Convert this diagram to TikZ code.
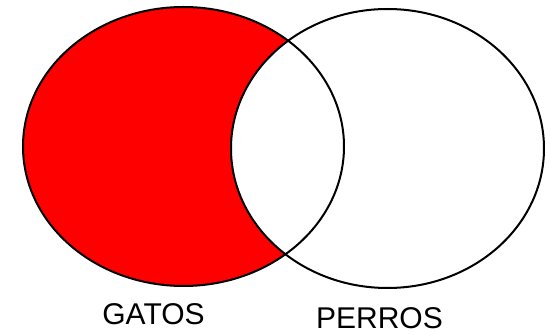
\documentclass[tikz,border=0pt]{standalone}
\usepackage{fontspec}
\setmainfont{Liberation Sans}
\begin{document}
\begin{tikzpicture}[x=1pt,y=1pt,
  setline/.style={draw=black,line width=2pt},
  setlabel/.style={anchor=base,inner sep=0pt,font=\fontsize{30}{30}\selectfont}]
\useasboundingbox (0,0) rectangle (550,335);
\fill[white] (0,0) rectangle (550,335);
\fill[red] (183.5,188.5) ellipse [x radius=160.5, y radius=139.5];
\fill[white] (387.5,186.5) ellipse [x radius=156.5, y radius=139.5];
\draw[setline] (183.5,188.5) ellipse [x radius=160.5, y radius=139.5];
\draw[setline] (387.5,186.5) ellipse [x radius=156.5, y radius=139.5];
\node[setlabel] (gatos) at (153.5,10.5) {GATOS};
\node[setlabel] (perros) at (379.5,6.5) {PERROS};
\end{tikzpicture}
\end{document}
